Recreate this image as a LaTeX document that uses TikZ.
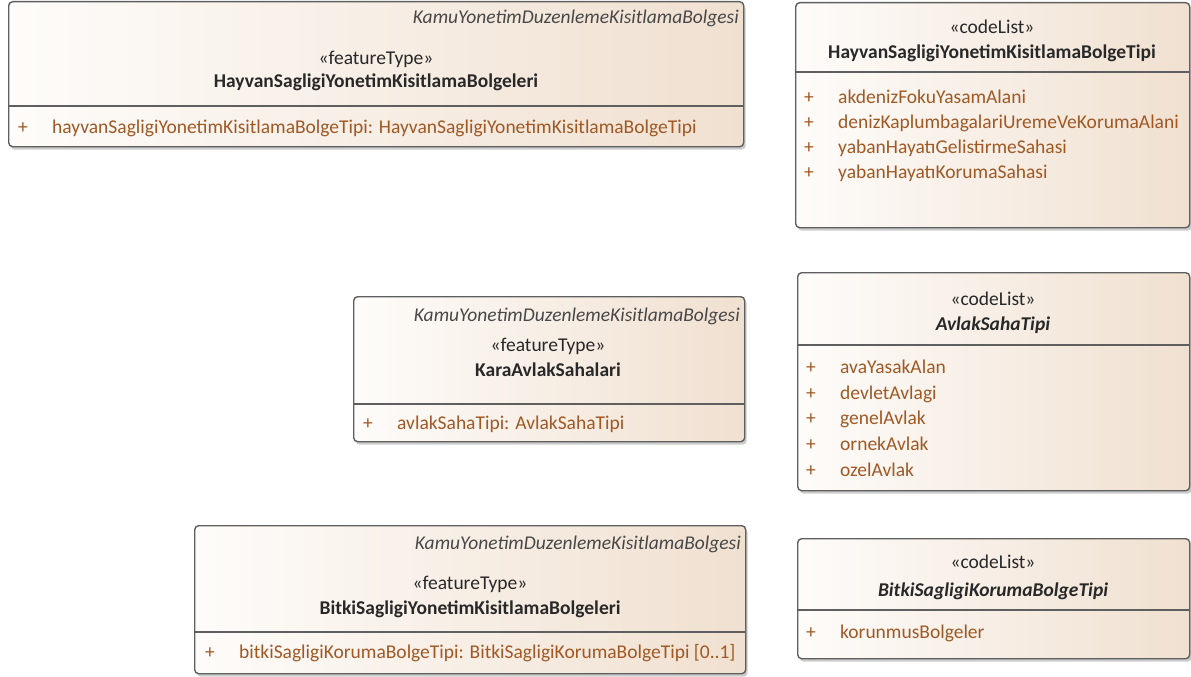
\documentclass[tikz,border=0pt]{standalone}
\usepackage{fontspec}
\setmainfont{Carlito}
\usetikzlibrary{shadows}
\definecolor{clsleft}{RGB}{254,252,250}
\definecolor{clsright}{RGB}{240,224,208}
\definecolor{boxline}{RGB}{95,95,95}
\definecolor{attrtext}{RGB}{160,88,36}
\definecolor{nametext}{RGB}{40,40,40}
\newcommand{\umlfont}{\fontsize{19.5}{25}\selectfont}
\newcommand{\plusmark}{\makebox[34pt][l]{+}}

\begin{document}
\begin{tikzpicture}[
        x=1pt, y=-1pt,
        classbox/.style={draw=boxline, line width=1.4pt, rounded corners=4pt, left color=clsleft, right color=clsright,
            anchor=north west, inner sep=0pt, drop shadow={shadow xshift=2pt, shadow yshift=-3pt, opacity=0.4}},
        umltext/.style={inner sep=0pt, yshift=-4.5pt},
        pkglabel/.style={umltext, font=\umlfont\itshape, text=nametext!85, anchor=mid east},
        stereo/.style={umltext, font=\umlfont, text=nametext, anchor=mid},
        clsname/.style={umltext, font=\umlfont\bfseries, text=nametext, anchor=mid},
        attr/.style={umltext, font=\umlfont, text=attrtext, anchor=mid west},
        divider/.style={draw=boxline, line width=1.4pt}
    ]
        \useasboundingbox (0,0) rectangle (1191,677);

        % feature types
        \node[classbox, minimum width=735pt, minimum height=145pt] (hayvanCls) at (8,1) {};
        \node[classbox, minimum width=391pt, minimum height=145pt] (karaCls) at (353,296) {};
        \node[classbox, minimum width=551pt, minimum height=148pt] (bitkiCls) at (194,525) {};

        % code lists
        \node[classbox, minimum width=394pt, minimum height=225pt] (hayvanList) at (795,2) {};
        \node[classbox, minimum width=392pt, minimum height=218pt] (avlakList) at (797,272) {};
        \node[classbox, minimum width=392pt, minimum height=120pt] (bitkiList) at (797,538) {};

        \draw[divider] (hayvanCls.west |- 0,106) -- (hayvanCls.east |- 0,106);
        \draw[divider] (karaCls.west |- 0,404) -- (karaCls.east |- 0,404);
        \draw[divider] (bitkiCls.west |- 0,632) -- (bitkiCls.east |- 0,632);
        \draw[divider] (hayvanList.west |- 0,72) -- (hayvanList.east |- 0,72);
        \draw[divider] (avlakList.west |- 0,345) -- (avlakList.east |- 0,345);
        \draw[divider] (bitkiList.west |- 0,610) -- (bitkiList.east |- 0,610);

        \node[pkglabel] (hayvanPkg) at (739,17) {KamuYonetimDuzenlemeKisitlamaBolgesi};
        \node[stereo] (hayvanStereo) at (376,58) {«featureType»};
        \node[clsname] (hayvanName) at (376,81) {HayvanSagligiYonetimKisitlamaBolgeleri};
        \node[attr] (hayvanAttr) at (18,127) {\plusmark hayvanSagligiYonetimKisitlamaBolgeTipi: HayvanSagligiYonetimKisitlamaBolgeTipi};

        \node[pkglabel] (karaPkg) at (740,315) {KamuYonetimDuzenlemeKisitlamaBolgesi};
        \node[stereo] (karaStereo) at (548,345) {«featureType»};
        \node[clsname] (karaName) at (548,370) {KaraAvlakSahalari};
        \node[attr] (karaAttr) at (363,423) {\plusmark avlakSahaTipi: AvlakSahaTipi};

        \node[pkglabel] (bitkiPkg) at (741,543) {KamuYonetimDuzenlemeKisitlamaBolgesi};
        \node[stereo] (bitkiStereo) at (470,583) {«featureType»};
        \node[clsname] (bitkiName) at (470,608) {BitkiSagligiYonetimKisitlamaBolgeleri};
        \node[attr] (bitkiAttr) at (205,652) {\plusmark bitkiSagligiKorumaBolgeTipi: BitkiSagligiKorumaBolgeTipi [0..1]};

        \node[stereo] (hayvanListStereo) at (992,27) {«codeList»};
        \node[clsname] (hayvanListName) at (992,52) {HayvanSagligiYonetimKisitlamaBolgeTipi};
        \node[attr] (hayvanItem1) at (804,97) {\plusmark akdenizFokuYasamAlani};
        \node[attr] (hayvanItem2) at (804,122) {\plusmark denizKaplumbagalariUremeVeKorumaAlani};
        \node[attr] (hayvanItem3) at (804,147) {\plusmark yabanHayatıGelistirmeSahasi};
        \node[attr] (hayvanItem4) at (804,172) {\plusmark yabanHayatıKorumaSahasi};

        \node[stereo] (avlakStereo) at (993,299) {«codeList»};
        \node[clsname, font=\umlfont\bfseries\itshape] (avlakName) at (993,324) {AvlakSahaTipi};
        \node[attr] (avlakItem1) at (806,367) {\plusmark avaYasakAlan};
        \node[attr] (avlakItem2) at (806,393) {\plusmark devletAvlagi};
        \node[attr] (avlakItem3) at (806,418) {\plusmark genelAvlak};
        \node[attr] (avlakItem4) at (806,444) {\plusmark ornekAvlak};
        \node[attr] (avlakItem5) at (806,470) {\plusmark ozelAvlak};

        \node[stereo] (bitkiListStereo) at (993,562) {«codeList»};
        \node[clsname, font=\umlfont\bfseries\itshape] (bitkiListName) at (993,590) {BitkiSagligiKorumaBolgeTipi};
        \node[attr] (bitkiItem1) at (806,632) {\plusmark korunmusBolgeler};
    \end{tikzpicture}
\end{document}
